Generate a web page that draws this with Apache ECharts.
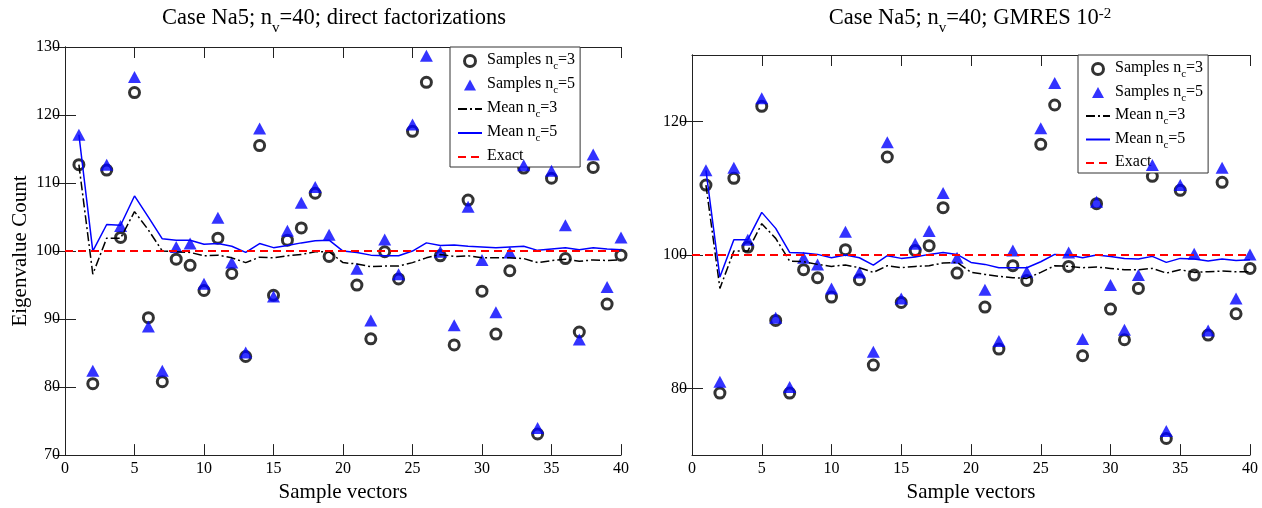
<!DOCTYPE html>
<html><head><meta charset="utf-8">
<script src="https://cdn.jsdelivr.net/npm/echarts@6/dist/echarts.min.js"></script>
<style>html,body{margin:0;padding:0;background:#fff}#c{width:1262px;height:508px}</style>
</head><body><div id="c"></div>
<script>
// ---- data ----
const sampleIdx = [1,2,3,4,5,6,7,8,9,10,11,12,13,14,15,16,17,18,19,20,21,22,23,24,25,26,27,28,29,30,31,32,33,34,35,36,37,38,39,40];
const exactValue = 100;
const exactX = [0, 40];

// Left: direct factorizations
const leftSamples3 = [112.7,80.5,111.9,102.0,123.3,90.2,80.8,98.8,97.9,94.2,101.9,96.7,84.5,115.5,93.5,101.6,103.4,108.5,99.2,null,95.0,87.1,99.9,95.9,117.6,124.8,99.3,86.2,107.5,94.1,87.8,97.1,112.2,73.1,110.7,98.9,88.1,112.3,92.2,99.4];
const leftSamples5 = [117.1,82.4,112.7,103.7,125.6,88.9,82.4,100.6,101.1,95.2,104.9,98.3,85.1,118.0,93.3,103.0,107.1,109.4,102.4,null,97.4,89.8,101.7,96.6,118.6,128.7,99.9,89.1,106.5,98.7,91.0,99.8,112.6,74.0,111.8,103.8,87.0,114.2,94.7,102.0];
const leftMean3 = [112.7,96.6,101.9,101.9,105.8,103.1,100.0,99.9,99.8,99.3,99.4,99.0,98.3,99.1,99.0,99.3,99.5,99.9,99.9,98.3,98.1,97.7,97.8,97.8,98.3,99.0,99.5,99.2,99.3,99.0,99.0,99.0,98.9,98.3,98.6,98.8,98.5,98.7,98.6,98.7];
const leftMean5 = [117.1,100.0,103.9,103.8,108.1,105.0,101.8,101.6,101.6,101.0,101.1,100.7,99.8,101.1,100.5,100.8,101.2,101.5,101.6,100.0,99.8,99.4,99.3,99.3,100.0,101.2,100.8,100.9,100.7,100.6,100.5,100.6,100.7,100.1,100.3,100.5,100.2,100.5,100.3,100.2];
const leftYTicks = [70,80,90,100,110,120,130];

// Right: GMRES 1e-2
const rightSamples3 = [110.5,79.3,111.5,101.2,122.3,90.2,79.3,97.8,96.6,93.7,100.8,96.3,83.5,114.7,92.9,100.7,101.4,107.1,97.3,null,92.2,85.9,98.4,96.2,116.6,122.5,98.3,84.9,107.7,91.9,87.3,95.0,111.8,72.5,109.7,97.0,88.0,110.9,91.2,98.0];
const rightSamples5 = [112.7,81.0,113.1,102.3,123.5,90.6,80.2,99.6,98.6,95.0,103.5,97.4,85.5,116.9,93.5,101.7,103.6,109.3,99.6,null,94.8,87.1,100.7,97.5,119.0,125.8,100.4,87.4,108.0,95.5,88.8,97.0,113.5,73.6,110.5,100.2,88.7,113.1,93.5,100.1];
const rightMean3 = [110.5,95.0,100.6,100.6,104.7,102.5,99.1,99.0,98.6,98.3,98.5,98.1,97.4,98.4,98.1,98.3,98.4,98.8,98.9,97.4,97.1,96.8,96.6,96.5,97.4,98.4,98.3,98.1,98.2,98.0,97.8,97.8,98.0,97.3,97.8,97.4,97.5,97.6,97.5,97.5];
const rightMean5 = [112.7,96.7,102.3,102.3,106.4,104.0,100.4,100.3,100.1,99.6,100.0,99.6,98.5,99.9,99.5,99.7,100.1,100.4,100.1,98.9,98.6,98.1,98.1,98.1,99.0,100.1,100.0,99.6,100.0,99.8,99.5,99.4,99.8,98.9,99.5,99.4,99.1,99.4,99.2,99.3];
const rightYTicks = [80,100,120];

const NAMES = ['Samples nc=3','Samples nc=5','Mean nc=3','Mean nc=5','Exact'];

// ---- chart ----
const FONT = 'Liberation Serif';
const pairs = (ys) => sampleIdx.map((x,i) => [x, ys[i]]);
const exactPairs = exactX.map(x => [x, exactValue]);

function axesFor(grid, yTicks, yName) {
  const tickStyle = {show:true, inside:true, length:11, lineStyle:{color:'#222', width:1}};
  const lineStyle = {show:true, lineStyle:{color:'#222', width:1}};
  const xb = {type:'value', gridIndex:grid, min:0, max:40, interval:5, position:'bottom',
    axisLine:lineStyle, axisTick:tickStyle, splitLine:{show:false},
    axisLabel:{color:'#000', fontFamily:FONT, fontSize:16, margin:6},
    name:'Sample vectors', nameLocation:'middle', nameGap:24,
    nameTextStyle:{color:'#000', fontFamily:FONT, fontSize:21}};
  const xt = {type:'value', gridIndex:grid, min:0, max:40, interval:5, position:'top',
    axisLine:lineStyle, axisTick:tickStyle, axisLabel:{show:false}, splitLine:{show:false}};
  const yl = {type:'value', gridIndex:grid, min:70, max:130, interval:10, position:'left',
    axisLine:lineStyle, splitLine:{show:false},
    axisTick:Object.assign({}, tickStyle, {customValues:yTicks}),
    axisLabel:{color:'#000', fontFamily:FONT, fontSize:16, margin:5, customValues:yTicks}};
  if (yName) {
    Object.assign(yl, {name:yName, nameLocation:'middle', nameGap:34,
      nameTextStyle:{color:'#000', fontFamily:FONT, fontSize:21}});
  }
  const yr = {type:'value', gridIndex:grid, min:70, max:130, interval:10, position:'right',
    axisLine:lineStyle, splitLine:{show:false},
    axisTick:Object.assign({}, tickStyle, {customValues:yTicks}),
    axisLabel:{show:false}};
  return {x:[xb, xt], y:[yl, yr]};
}

const A = axesFor(0, leftYTicks, 'Eigenvalue Count');
const B = axesFor(1, rightYTicks, null);

const circleStyle = {color:'#fff', borderColor:'#000', borderWidth:3};
const triColor = '#0000ff';

function seriesFor(xi, yi, s3, s5, m3, m5) {
  return [
    {name:NAMES[0], type:'scatter', xAxisIndex:xi, yAxisIndex:yi, data:pairs(s3),
      symbol:'circle', symbolSize:10, z:3, itemStyle:circleStyle},
    {name:NAMES[1], type:'scatter', xAxisIndex:xi, yAxisIndex:yi, data:pairs(s5),
      symbol:'triangle', symbolSize:[13,12], z:4, itemStyle:{color:triColor}},
    {name:NAMES[2], type:'line', xAxisIndex:xi, yAxisIndex:yi, data:pairs(m3),
      symbol:'none', z:5, lineStyle:{color:'#000', width:1.5, type:[9,3,2,3]}, itemStyle:{color:'#000'}},
    {name:NAMES[3], type:'line', xAxisIndex:xi, yAxisIndex:yi, data:pairs(m5),
      symbol:'none', z:5, lineStyle:{color:'#0000ff', width:1.5}, itemStyle:{color:'#0000ff'}},
    {name:NAMES[4], type:'line', xAxisIndex:xi, yAxisIndex:yi, data:exactPairs,
      symbol:'none', z:6, lineStyle:{color:'#ff0000', width:2, type:[8,5]}, itemStyle:{color:'#ff0000'}}
  ];
}

const legendRich = {
  a:{fontFamily:FONT, fontSize:16, color:'#000', lineHeight:18, verticalAlign:'top', padding:[0,0,2,0]},
  s:{fontFamily:FONT, fontSize:11, color:'#000', lineHeight:11, verticalAlign:'top', padding:[9,0,0,0]}
};
function legendFmt(name) {
  const m = name.match(/^(.*n)c(=\d)$/);
  if (m) return '{a|' + m[1] + '}{s|c}{a|' + m[2] + '}';
  return '{a|' + name + '}';
}
const hiddenSym = {color:'rgba(0,0,0,0)', borderColor:'rgba(0,0,0,0)', borderWidth:0, opacity:0};
const legendData = [
  {name:NAMES[0], icon:'circle', itemStyle:{color:'#fff', borderColor:'#000', borderWidth:3}},
  {name:NAMES[1], icon:'path://M6,0 L12,11 L0,11 Z', itemStyle:{color:triColor}},
  {name:NAMES[2], itemStyle:hiddenSym},
  {name:NAMES[3], itemStyle:hiddenSym},
  {name:NAMES[4], itemStyle:hiddenSym}
];
function legendAt(left, top, gap) {
  return {orient:'vertical', left:left, top:top, data:legendData, itemWidth:24, itemHeight:11,
    itemGap:gap, itemTextGap:10, padding:[5,5,1,7], backgroundColor:'#fff',
    borderColor:'#333', borderWidth:1, borderRadius:0, selectedMode:false, symbolKeepAspect:true,
    formatter:legendFmt, textStyle:{fontFamily:FONT, fontSize:16, color:'#000', rich:legendRich}};
}

const titleRich = {
  a:{fontFamily:FONT, fontSize:22.5, color:'#000', lineHeight:25, verticalAlign:'top'},
  s:{fontFamily:FONT, fontSize:15, color:'#000', lineHeight:15, verticalAlign:'top', padding:[14,0,0,0]},
  p:{fontFamily:FONT, fontSize:15, color:'#000', lineHeight:15, verticalAlign:'top', padding:[0,0,14,0]}
};

const option = {
  animation:false,
  backgroundColor:'#fff',
  grid:[
    {left:65, top:47, width:556, height:416},
    {left:692, top:55, width:558, height:409}
  ],
  xAxis:[A.x[0], A.x[1], B.x[0], B.x[1]],
  yAxis:[A.y[0], A.y[1], B.y[0], B.y[1]],
  legend:[legendAt(450, 47, 4), legendAt(1078, 55, 3.5)],
  series:[].concat(
    seriesFor(0, 0, leftSamples3, leftSamples5, leftMean3, leftMean5),
    seriesFor(2, 2, rightSamples3, rightSamples5, rightMean3, rightMean5)
  ),
  graphic:[
    {type:'text', x:334, y:7, style:{text:'{a|Case Na5; n}{s|v}{a|=40; direct factorizations}',
      rich:titleRich, align:'center', textAlign:'center', verticalAlign:'top', textVerticalAlign:'top'}},
    {type:'text', x:970, y:7, style:{text:'{a|Case Na5; n}{s|v}{a|=40; GMRES 10}{p|-2}',
      rich:titleRich, align:'center', textAlign:'center', verticalAlign:'top', textVerticalAlign:'top'}}
  ]
};

const chart = echarts.init(document.getElementById('c'), null, {renderer:'canvas'});
chart.setOption(option);
</script></body></html>
